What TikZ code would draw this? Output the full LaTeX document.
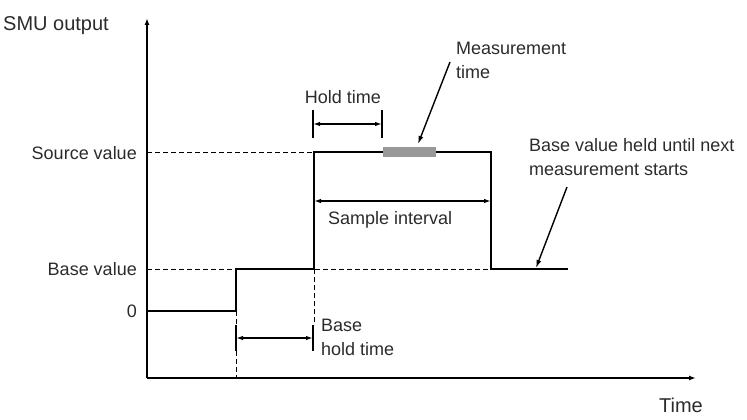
\documentclass[tikz,border=0pt]{standalone}
\usepackage{fontspec}
\setmainfont{Liberation Sans}
\usepackage{tikz}
\usetikzlibrary{arrows.meta}

\definecolor{txtgray}{HTML}{2B2B2B}
\definecolor{bargray}{HTML}{999999}

\tikzset{
    lbl/.style={text=txtgray, inner sep=0pt, font=\fontsize{18}{24}\selectfont},
    biglbl/.style={lbl, font=\fontsize{20}{24}\selectfont},
    axis/.style={line width=1.5pt, -{Latex[length=7pt,width=5pt]}},
    wave/.style={line width=2.6pt, line join=miter},
    guide/.style={line width=0.9pt, dash pattern=on 5pt off 3pt},
    tick/.style={line width=2.1pt},
    span/.style={line width=1.4pt, {Latex[length=7pt,width=4.5pt]}-{Latex[length=7pt,width=4.5pt]}},
    pointer/.style={line width=1.4pt, -{Latex[length=8pt,width=5pt]}}
}

\begin{document}
\begin{tikzpicture}[x=1pt,y=-1pt]
        \useasboundingbox (0,0) rectangle (747,420);
        % Define the key points of the waveform
        \coordinate (orig) at (147,378);
        \coordinate (ytip) at (147,18);
        \coordinate (xtip) at (696,378);
        \coordinate (zstart) at (147,311);
        \coordinate (zend) at (236,311);
        \coordinate (bup) at (236,269);
        \coordinate (bend) at (314,269);
        \coordinate (sup) at (314,152);
        \coordinate (send) at (491,152);
        \coordinate (bdown) at (491,269);
        \coordinate (bhold) at (568,269);
        \coordinate (zdash) at (236,378);
        \coordinate (bdash) at (314,325);
        \coordinate (ylvlS) at (147,152);
        \coordinate (ylvlB) at (147,269);

        % Add axes
        \draw[axis] (orig) -- (ytip);
        \draw[axis] (orig) -- (xtip);

        % Axis labels
        \node[biglbl, anchor=west] (smu) at (3,26) {SMU output};
        \node[biglbl, anchor=center] (time) at (681,405) {Time};
        \node[lbl, anchor=east] (srcval) at (137,153) {Source value};
        \node[lbl, anchor=east] (basval) at (137,269) {Base value};
        \node[lbl, anchor=east] (zero) at (137,311) {0};

        % Dashed guide lines
        \draw[guide] (ylvlS) -- (sup);
        \draw[guide] (ylvlB) -- (bdown);
        \draw[guide] (zend) -- (zdash);
        \draw[guide] (bend) -- (bdash);

        % Waveform
        \draw[wave] (zstart) -- (zend) -- (bup) -- (bend) -- (sup) -- (send) -- (bdown) -- (bhold);

        % Measurement window
        \fill[bargray] (383,147) rectangle (436,156.5);
        \coordinate (meas) at (418,144);

        % Hold time
        \coordinate (hA1) at (313,110);
        \coordinate (hA2) at (313,138);
        \coordinate (hB1) at (382,110);
        \coordinate (hB2) at (382,138);
        \draw[tick] (hA1) -- (hA2);
        \draw[tick] (hB1) -- (hB2);
        \coordinate (hL) at (313,124);
        \coordinate (hR) at (382,124);
        \draw[span] (hL) -- (hR);
        \node[lbl] (holdt) at (343,97) {Hold time};

        % Sample interval
        \coordinate (sL) at (314,201);
        \coordinate (sR) at (491,201);
        \draw[span] (sL) -- (sR);
        \node[lbl, anchor=west] (sampint) at (328,220) {Sample interval};

        % Base hold time
        \coordinate (bA1) at (236,325);
        \coordinate (bA2) at (236,351);
        \coordinate (bB1) at (313,325);
        \coordinate (bB2) at (313,351);
        \draw[tick] (bA1) -- (bA2);
        \draw[tick] (bB1) -- (bB2);
        \coordinate (bL) at (236,338);
        \coordinate (bR) at (313,338);
        \draw[span] (bL) -- (bR);
        \node[lbl, anchor=west, align=left] (basht) at (321,337) {Base\\hold time};

        % Callouts
        \node[lbl, anchor=west, align=left] (meastxt) at (456,60) {Measurement\\time};
        \coordinate (mfrom) at (450,62);
        \draw[pointer] (mfrom) -- (meas);
        \node[lbl, anchor=west, align=left] (heldtxt) at (529,157) {Base value held until next\\measurement starts};
        \coordinate (hfrom) at (567,187);
        \coordinate (hto) at (536,268);
        \draw[pointer] (hfrom) -- (hto);
\end{tikzpicture}
\end{document}
